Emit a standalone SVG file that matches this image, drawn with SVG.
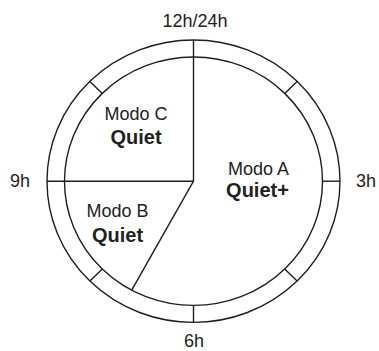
<svg xmlns="http://www.w3.org/2000/svg" width="379" height="351" viewBox="0 0 379 351">
  <style>
    .ln { fill: none; stroke: #1e1e1e; stroke-width: 1.4; }
    .lbl { font-family: "Liberation Sans", Arial, sans-serif; font-size: 18px; fill: #222; text-anchor: middle; }
    .bold { font-weight: bold; font-size: 20px; }
  </style>
  <rect width="379" height="351" fill="#fff"/>

  <!-- clock ring -->
  <g id="ring">
    <ellipse class="ln" cx="193.5" cy="181.2" rx="146.5" ry="141.2"/>
    <ellipse class="ln" cx="193.5" cy="181.2" rx="129" ry="124.2"/>
  </g>

  <!-- hour ticks across the ring and sector dividers -->
  <g id="connectors">
    <line class="ln" x1="193.5" y1="40" x2="193.5" y2="181.2"/>
    <line class="ln" x1="47" y1="181.2" x2="193.5" y2="181.2"/>
    <line class="ln" x1="193.5" y1="181.2" x2="131.7" y2="290.2"/>
    <line class="ln" x1="322.5" y1="181.2" x2="340" y2="181.2"/>
    <line class="ln" x1="193.5" y1="305.4" x2="193.5" y2="322.4"/>
    <line class="ln" x1="284.7" y1="93.4" x2="297.1" y2="81.4"/>
    <line class="ln" x1="102.3" y1="93.4" x2="89.9" y2="81.4"/>
    <line class="ln" x1="102.3" y1="269" x2="89.9" y2="281"/>
    <line class="ln" x1="284.7" y1="269" x2="297.1" y2="281"/>
  </g>

  <g id="hours">
    <text class="lbl" x="195" y="27">12h/24h</text>
    <text class="lbl" x="366" y="187">3h</text>
    <text class="lbl" x="194" y="347">6h</text>
    <text class="lbl" x="20" y="187">9h</text>
  </g>

  <g id="modo-c">
    <text class="lbl" x="136" y="120">Modo C</text>
    <text class="lbl bold" x="136" y="143.5">Quiet</text>
  </g>

  <g id="modo-a">
    <text class="lbl" x="258.5" y="175">Modo A</text>
    <text class="lbl bold" x="257.5" y="197">Quiet+</text>
  </g>

  <g id="modo-b">
    <text class="lbl" x="117.5" y="217">Modo B</text>
    <text class="lbl bold" x="117.5" y="242">Quiet</text>
  </g>
</svg>
